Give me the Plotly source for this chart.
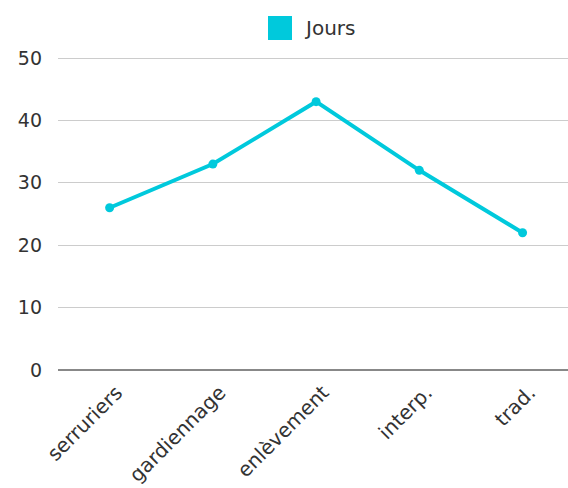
import plotly.graph_objects as go

categories = ["serruriers", "gardiennage", "enlèvement", "interp.", "trad."]
jours = [26, 33, 43, 32, 22]
y_ticks = [0, 10, 20, 30, 40, 50]
series_name = "Jours"
color = "#00C9DC"
font_family = "DejaVu Sans, sans-serif"

fig = go.Figure()
fig.add_trace(go.Scatter(
    x=categories, y=jours, name=series_name, mode="lines+markers",
    line=dict(color=color, width=4), marker=dict(color=color, size=9),
    showlegend=False,
))

W, H = 568, 488
L, R, T, B = 58, 0, 55, 118
pw, ph = W - L - R, H - T - B
y_top = ph / (312 / 50)

def px_x(p):
    return (p - L) / pw

def px_y(p):
    return (H - B - p) / ph

fig.add_shape(type="rect", xref="paper", yref="paper",
              x0=px_x(268), x1=px_x(292), y0=px_y(40), y1=px_y(16),
              fillcolor=color, line=dict(width=0))
fig.add_annotation(xref="paper", yref="paper", x=px_x(302), y=px_y(28),
                   text=series_name, showarrow=False, xanchor="left", yanchor="middle",
                   font=dict(size=20, color="#333333", family=font_family))

fig.update_layout(
    width=W, height=H,
    margin=dict(l=L, r=R, t=T, b=B, pad=0),
    paper_bgcolor="white", plot_bgcolor="white",
    font=dict(family=font_family, size=19, color="#333333"),
    showlegend=False,
    xaxis=dict(type="category", range=[-0.5, 4.44], tickangle=-45,
               showgrid=False, showline=False, zeroline=False, ticks="",
               ticklabelshift=7, ticklabelstandoff=6,
               tickfont=dict(size=20, color="#333333")),
    yaxis=dict(range=[0, y_top], tickvals=y_ticks, showgrid=True, gridcolor="#CCCCCC",
               gridwidth=1, zeroline=True, zerolinecolor="#888888", zerolinewidth=1.5,
               showline=False, ticks="", ticklabelstandoff=15,
               tickfont=dict(size=19, color="#333333")),
)

fig.write_html("out.html")
